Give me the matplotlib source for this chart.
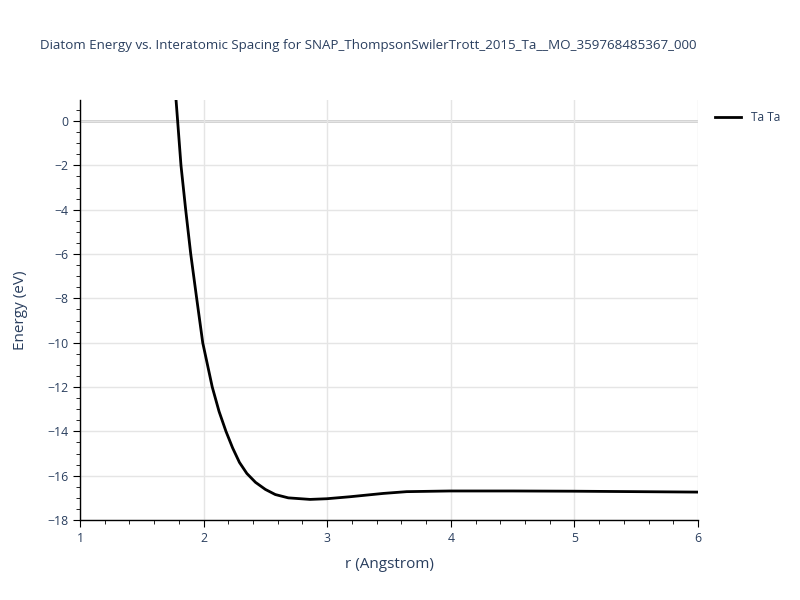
import matplotlib
matplotlib.use("Agg")
import matplotlib.pyplot as plt
from matplotlib.ticker import MultipleLocator

# Diatom energy curve
r_angstrom = [1.777, 1.79, 1.817, 1.855, 1.896, 1.944, 1.993, 2.07, 2.125, 2.181,
              2.235, 2.29, 2.35, 2.42, 2.5, 2.58, 2.685, 2.861, 2.996, 3.184, 3.454,
              3.643, 3.99, 4.5, 5.0, 5.5, 6.0]
energy_ev = [0.95, 0.0, -2.0, -4.0, -6.0, -8.0, -10.0, -12.0, -13.1, -14.0,
             -14.75, -15.4, -15.9, -16.3, -16.62, -16.85, -17.0, -17.07, -17.04, -16.95, -16.8,
             -16.72, -16.69, -16.69, -16.7, -16.72, -16.74]

title = "Diatom Energy vs. Interatomic Spacing for SNAP_ThompsonSwilerTrott_2015_Ta__MO_359768485367_000"
text_color = "#2a3f5f"

plt.rcParams["font.family"] = ["Open Sans", "DejaVu Sans"]

fig = plt.figure(figsize=(8, 6), dpi=100)
ax = fig.add_axes([0.1, 0.1333, 0.7725, 0.7])

ax.plot(r_angstrom, energy_ev, color="black", linewidth=2, label="Ta Ta", zorder=3)

ax.set_xlim(1, 6)
ax.set_ylim(-18, 0.95)
ax.xaxis.set_major_locator(MultipleLocator(1))
ax.xaxis.set_minor_locator(MultipleLocator(0.2))
ax.yaxis.set_major_locator(MultipleLocator(2))
ax.yaxis.set_minor_locator(MultipleLocator(0.5))

ax.grid(True, which="major", color="#e5e5e5", linewidth=1, zorder=0)
ax.axhline(0, color="#cccccc", linewidth=2, zorder=1)

for s in ["top", "right"]:
    ax.spines[s].set_visible(False)
for s in ["left", "bottom"]:
    ax.spines[s].set_color("black")
    ax.spines[s].set_linewidth(1)

ax.tick_params(which="major", direction="out", length=5, color="black",
               labelsize=8.8, labelcolor=text_color)
ax.tick_params(which="minor", direction="out", length=3, color="black")
ax.set_yticklabels([("\u2212" + str(-int(v))) if v < 0 else str(int(v))
                    for v in ax.get_yticks()])

ax.set_xlabel("r (Angstrom)", fontsize=11, color=text_color, labelpad=9)
ax.set_ylabel("Energy (eV)", fontsize=11, color=text_color, labelpad=14)

fig.text(0.05, 0.925, title, fontsize=9.6, color=text_color, ha="left", va="center")

leg = ax.legend(loc="upper left", bbox_to_anchor=(1.01, 1.0), frameon=False,
                fontsize=8.6, handlelength=2.2, labelcolor=text_color)

fig.savefig("out.png", dpi=100)
